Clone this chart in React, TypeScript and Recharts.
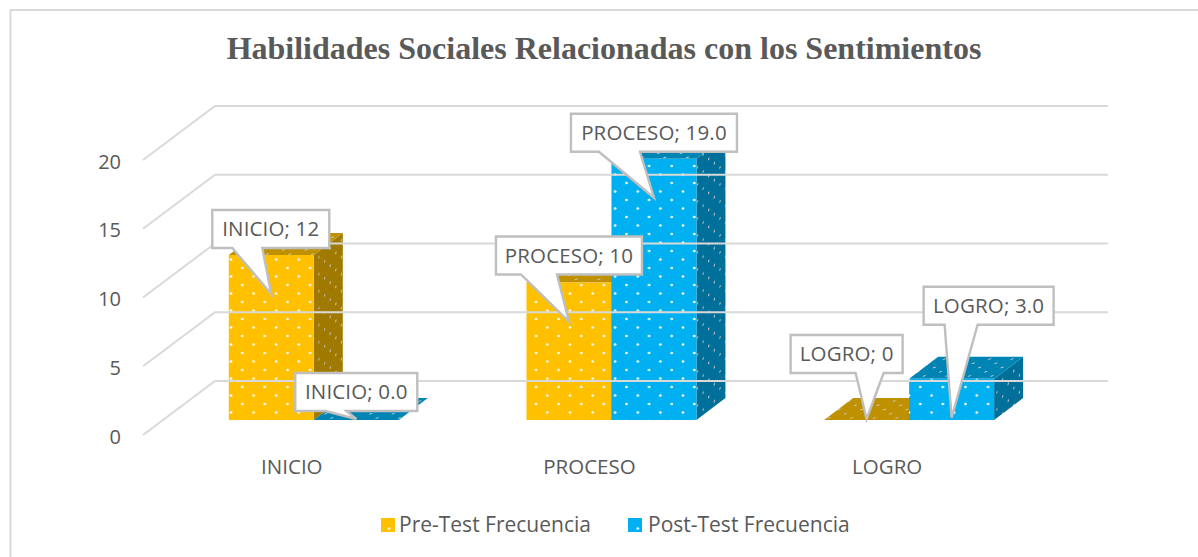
import { Bar, BarChart, LabelList, Legend, ReferenceLine, XAxis, YAxis } from "recharts";

const categories = ["INICIO", "PROCESO", "LOGRO"];
const preTest = [12, 10, 0];
const postTest = [0, 19, 3];
const gridValues = [0, 5, 10, 15, 20];
const axisTicks = [0, 5, 10, 15, 20];

const data = categories.map((name, i) => ({ name, pre: preTest[i], post: postTest[i] }));

// fake 3d depth of the bars and of the chart floor
const DEPTH_X = 29;
const DEPTH_Y = 22;
const WALL_X = 72;
const WALL_Y = 54;

const TEXT = "#595959";
const FONT = "'Open Sans', sans-serif";

const colors = {
  pre: { front: "#FFC000", top: "#BF9000", side: "#A07900" },
  post: { front: "#00B0F0", top: "#0084B4", side: "#006F9A" },
};

// callout box relative to the pointer tip: left, top, width, pointer base from / to
const preCallouts = [
  [-59, -84, 117, -39, -9],
  [-73, -85, 146, -48, -12],
  [-76, -84, 112, -11, 17],
];
const postCallouts = [
  [-61, -46, 122, -31, -10],
  [-83, -84, 166, -55, -14],
  [-28, -131, 130, -7, 26],
];

const Patterns = () => (
  <defs>
    {(["pre", "post"] as const).map((k) => (
      <g key={k}>
        <pattern id={`${k}-front`} width="22.6" height="17" patternUnits="userSpaceOnUse">
          <rect width="22.6" height="17" fill={colors[k].front} />
          <circle cx="5" cy="4.5" r="1.3" fill="#fff" />
          <circle cx="16.3" cy="13" r="1.3" fill="#fff" />
        </pattern>
        <pattern
          id={`${k}-side`}
          width="22.6"
          height="17"
          patternUnits="userSpaceOnUse"
          patternTransform="skewY(-37) scale(0.5 1)"
        >
          <rect width="22.6" height="17" fill={colors[k].side} />
          <circle cx="5" cy="4.5" r="1.2" fill="#c9c9c9" />
          <circle cx="16.3" cy="13" r="1.2" fill="#c9c9c9" />
        </pattern>
        <pattern
          id={`${k}-top`}
          width="22.6"
          height="14"
          patternUnits="userSpaceOnUse"
          patternTransform="skewX(-50) scale(1 0.6)"
        >
          <rect width="22.6" height="14" fill={colors[k].top} />
          <circle cx="5" cy="3.5" r="1.2" fill="#c9c9c9" />
          <circle cx="16.3" cy="10.5" r="1.2" fill="#c9c9c9" />
        </pattern>
      </g>
    ))}
  </defs>
);

const box3d = (k: "pre" | "post") => (props: any) => {
  const { x, y, width, height } = props;
  const r = x + width;
  const b = y + height;
  return (
    <g>
      <polygon
        points={`${r},${y} ${r + DEPTH_X},${y - DEPTH_Y} ${r + DEPTH_X},${b - DEPTH_Y} ${r},${b}`}
        fill={`url(#${k}-side)`}
      />
      <polygon
        points={`${x},${y} ${x + DEPTH_X},${y - DEPTH_Y} ${r + DEPTH_X},${y - DEPTH_Y} ${r},${y}`}
        fill={`url(#${k}-top)`}
      />
      <rect x={x} y={y} width={width} height={height} fill={`url(#${k}-front)`} />
    </g>
  );
};

const callout = (values: number[], digits: number, places: number[][]) => (props: any) => {
  const { x, y, width, height, index } = props;
  const [left, top, w, from, to] = places[index];
  const tipX = x + width / 2;
  const tipY = y + Math.min(39, height - 1);
  const bx = tipX + left;
  const by = tipY + top;
  const bh = 38;
  const path = `M${bx},${by} h${w} v${bh} H${tipX + to} L${tipX},${tipY} L${tipX + from},${by + bh} H${bx} Z`;
  return (
    <g>
      <path d={path} fill="#fff" stroke="#BFBFBF" strokeWidth={2.4} />
      <text
        x={bx + w / 2}
        y={by + 26}
        textAnchor="middle"
        fontFamily={FONT}
        fontSize={20.5}
        letterSpacing={0.15}
        fill={TEXT}
      >
        {`${categories[index]}; ${values[index].toFixed(digits)}`}
      </text>
    </g>
  );
};

// back wall line plus the diagonal running to the front of the floor
const WallLine = (props: any) => {
  const { x1, x2, y1 } = props;
  return (
    <polyline
      points={`${x1},${y1 + WALL_Y} ${x1 + WALL_X},${y1} ${x2},${y1}`}
      fill="none"
      stroke="#D9D9D9"
      strokeWidth={2}
    />
  );
};

const CategoryTick = (props: any) => (
  <text
    x={props.x - 22}
    y={props.y + 31}
    textAnchor="middle"
    fontFamily={FONT}
    fontSize={20.5}
    fill={TEXT}
  >
    {props.payload.value}
  </text>
);

// labels sit on the front edge of the floor, 15px under the bar baseline
const ValueTick = (props: any) => (
  <text
    x={121}
    y={props.y + 23.5}
    textAnchor="end"
    fontFamily={FONT}
    fontSize={20}
    fill={TEXT}
  >
    {props.payload.value}
  </text>
);

const legendItems = [
  { label: "Pre-Test Frecuencia", k: "pre", left: 381, textLeft: 399 },
  { label: "Post-Test Frecuencia", k: "post", left: 628, textLeft: 648 },
];

const ChartLegend = () => (
  <svg width={1198} height={40} style={{ display: "block" }}>
    {legendItems.map((it) => (
      <g key={it.k}>
        <rect x={it.left} y={11} width={14} height={14} fill={`url(#${it.k}-front)`} />
        <text x={it.textLeft} y={25} fontFamily={FONT} fontSize={21} fill={TEXT}>
          {it.label}
        </text>
      </g>
    ))}
  </svg>
);

export default function App() {
  return (
    <div style={{ position: "absolute", left: 0, top: 0, width: 1198, height: 557, background: "#fff" }}>
      <BarChart
        width={1198}
        height={557}
        data={data}
        margin={{ top: 105, right: 90, bottom: 52, left: 0 }}
        barCategoryGap="21.43%"
        barGap={0}
      >
        <Patterns />
        <path d="M1198,10 H10.5 V557" fill="none" stroke="#D9D9D9" strokeWidth={2} />
        <text
          x={604}
          y={59}
          textAnchor="middle"
          fontFamily="'Liberation Serif', serif"
          fontWeight="bold"
          fontSize={32}
          fill={TEXT}
        >
          Habilidades Sociales Relacionadas con los Sentimientos
        </text>
        <XAxis
          dataKey="name"
          padding={{ left: 22, right: 50 }}
          axisLine={false}
          tickLine={false}
          tick={<CategoryTick />}
          height={30}
        />
        <YAxis
          yAxisId="value"
          domain={[-1.09, 22.91]}
          ticks={axisTicks}
          interval={0}
          allowDataOverflow
          width={143}
          axisLine={false}
          tickLine={false}
          tick={<ValueTick />}
        />
        <YAxis yAxisId="back" hide domain={[-3.93, 20.07]} allowDataOverflow />
        {gridValues.map((v) => (
          <ReferenceLine key={v} yAxisId="back" y={v} shape={<WallLine />} />
        ))}
        <Bar dataKey="pre" yAxisId="value" fill="url(#pre-front)" shape={box3d("pre")} isAnimationActive={false}>
          <LabelList dataKey="pre" content={callout(preTest, 0, preCallouts)} />
        </Bar>
        <Bar dataKey="post" yAxisId="value" fill="url(#post-front)" shape={box3d("post")} isAnimationActive={false}>
          <LabelList dataKey="post" content={callout(postTest, 1, postCallouts)} />
        </Bar>
        <Legend
          verticalAlign="bottom"
          content={<ChartLegend />}
          wrapperStyle={{ left: 0, bottom: 10, width: 1198, height: 40 }}
        />
      </BarChart>
    </div>
  );
}
